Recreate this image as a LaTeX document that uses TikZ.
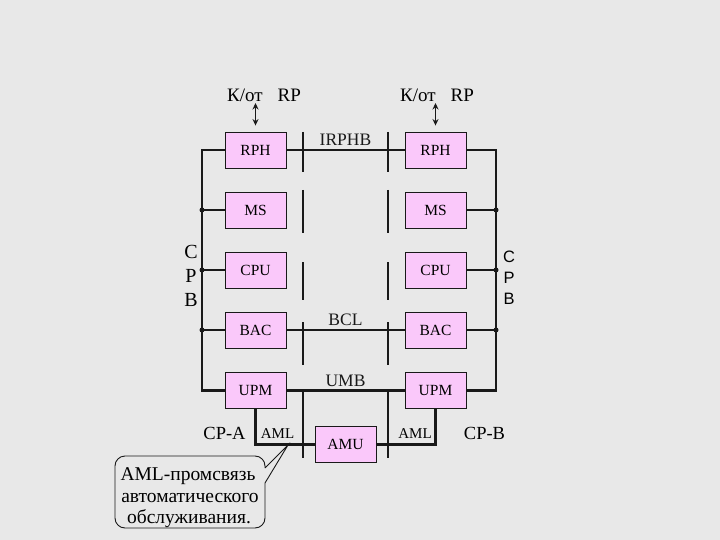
\documentclass[tikz,border=0pt]{standalone}
\usepackage{fontspec}
\setmainfont{Liberation Serif}
\newfontfamily\sansf{Liberation Sans}
\usetikzlibrary{arrows.meta}
\definecolor{bg}{RGB}{232,232,232}
\definecolor{boxpink}{RGB}{250,200,250}
\definecolor{ink}{RGB}{25,25,25}
\tikzset{
  unit/.style={draw=ink, line width=0.9pt, fill=boxpink, minimum width=61pt,
    minimum height=36pt, inner sep=0pt, font=\fontsize{15.5}{15.5}\selectfont},
  bus/.style={line width=2.2pt, ink},
  divider/.style={line width=1.1pt, ink},
  lbl/.style={font=\fontsize{17.5}{17.5}\selectfont, inner sep=0pt},
  small/.style={font=\fontsize{15}{15}\selectfont, inner sep=0pt},
  cpname/.style={font=\fontsize{18.5}{18.5}\selectfont, inner sep=0pt},
  toplbl/.style={font=\fontsize{19}{19}\selectfont, inner sep=0pt, anchor=base west},
  callt/.style={font=\fontsize{19.5}{19.5}\selectfont, inner sep=0pt, anchor=base},
  busdot/.style={circle, fill=ink, inner sep=0pt, minimum size=5pt},
  dbl/.style={{Stealth[length=6.5pt,width=6pt]}-{Stealth[length=6.5pt,width=6pt]}, line width=1.2pt, ink},
}
\begin{document}
\begin{tikzpicture}[x=1pt,y=-1pt]
\fill[bg] (0,0) rectangle (720,540);
\useasboundingbox (0,0) rectangle (720,540);

% dividers
\foreach \a/\b in {132/172,190/233,262/300,322/365,392/458}{
  \draw[divider] (303,\a) -- (303,\b);
  \draw[divider] (388,\a) -- (388,\b);
}

% units
\node[unit] (lrph) at (255.5,150) {RPH};
\node[unit] (lms)  at (255.5,210) {MS};
\node[unit] (lcpu) at (255.5,270) {CPU};
\node[unit] (lbac) at (255.5,330) {BAC};
\node[unit] (lupm) at (255.5,390.5) {UPM};
\node[unit] (rrph) at (435.5,150) {RPH};
\node[unit] (rms)  at (435.5,210) {MS};
\node[unit] (rcpu) at (435.5,270) {CPU};
\node[unit] (rbac) at (435.5,330) {BAC};
\node[unit] (rupm) at (435.5,390.5) {UPM};
\node[unit] (amu)  at (345.5,444.5) {AMU};

% buses
\coordinate (lbtop) at (202,150);
\coordinate (lbbot) at (202,390.5);
\coordinate (rbtop) at (496,150);
\coordinate (rbbot) at (496,390.5);
\draw[bus] (lrph.west) -- (lbtop) -- (lbbot) -- (lupm.west);
\draw[bus] (rrph.east) -- (rbtop) -- (rbbot) -- (rupm.east);
\foreach \n in {lms,lcpu,lbac}{
  \draw[bus] (\n.west) -- (\n.west -| lbtop) node[busdot]{};
}
\foreach \n in {rms,rcpu,rbac}{
  \draw[bus] (\n.east) -- (\n.east -| rbtop) node[busdot]{};
}

% inter-plane links
\draw[bus] (lrph.east) -- node[lbl, midway, above=3pt] (irphb) {IRPHB} (rrph.west);
\draw[bus] (lbac.east) -- node[lbl, midway, above=3pt] (bcl) {BCL} (rbac.west);
\draw[bus] (lupm.east) -- node[lbl, midway, above=3pt] (umb) {UMB} (rupm.west);
\draw[bus] (lupm.south) -- (lupm.south |- amu.west) -- (amu.west);
\draw[bus] (amu.east) -- (rupm.south |- amu.east) -- (rupm.south);

% labels
\node[small] (amll) at (277.5,434) {AML};
\node[small] (amlr) at (415,434) {AML};
\node[cpname] (cpa) at (224.5,433) {CP-A};
\node[cpname] (cpb) at (484.5,433) {CP-B};

\node[align=center, inner sep=0pt, font=\fontsize{20}{24}\selectfont] (cpbl) at (191,276) {C\\P\\B};
\node[align=center, inner sep=0pt, font=\sansf\fontsize{16.5}{21}\selectfont] (cpbr) at (509,278) {C\\P\\B};

% to/from RP
\node[toplbl] (kl) at (227,102) {К/от\hspace{15pt}RP};
\node[toplbl] (kr) at (400,102) {К/от\hspace{15pt}RP};
\coordinate (kla) at (255.5,103);
\coordinate (kra) at (435.5,103);
\draw[dbl] (kla) -- ([yshift=6pt]lrph.north);
\draw[dbl] (kra) -- ([yshift=6pt]rrph.north);

% callout
\coordinate (tip) at (288,445);
\draw[ink, line width=0.9pt] (265,468) -- (tip) -- (265,483)
  [rounded corners=10pt] -- (265,528) -- (115,528) -- (115,456) -- (265,456) -- (265,468);
\node[callt] (c1) at (188,480.7) {AML-промсвязь};
\node[callt] (c2) at (190,502) {автоматического};
\node[callt] (c3) at (189,523.5) {обслуживания.};
\end{tikzpicture}
\end{document}
